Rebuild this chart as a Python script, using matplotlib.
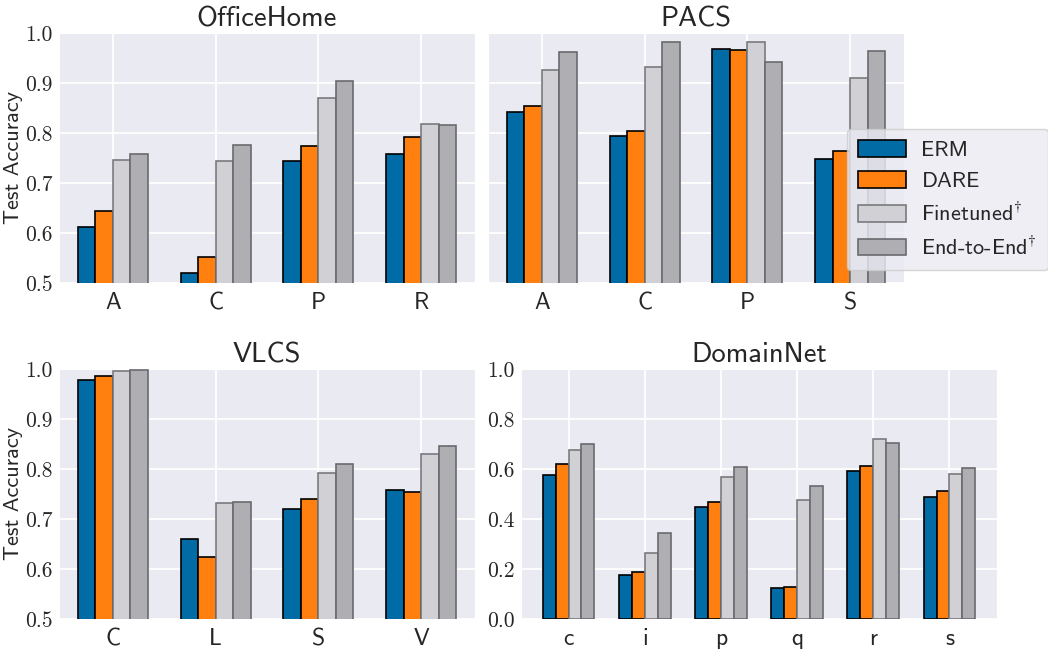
import numpy as np
import seaborn as sns
from matplotlib import pyplot as plt

# values
methods = ["ERM", "DARE", r"Finetuned$\!^\dagger$", r"End-to-End$\!^\dagger$"]

office_domains = ["A", "C", "P", "R"]
office_erm = [0.613, 0.520, 0.745, 0.758]
office_dare = [0.645, 0.552, 0.774, 0.792]
office_ft = [0.747, 0.745, 0.870, 0.819]
office_e2e = [0.758, 0.776, 0.904, 0.817]

pacs_domains = ["A", "C", "P", "S"]
pacs_erm = [0.843, 0.795, 0.969, 0.749]
pacs_dare = [0.855, 0.805, 0.967, 0.765]
pacs_ft = [0.927, 0.933, 0.983, 0.911]
pacs_e2e = [0.962, 0.983, 0.942, 0.965]

vlcs_domains = ["C", "L", "S", "V"]
vlcs_erm = [0.978, 0.660, 0.720, 0.759]
vlcs_dare = [0.987, 0.624, 0.741, 0.755]
vlcs_ft = [0.997, 0.732, 0.792, 0.830]
vlcs_e2e = [0.999, 0.735, 0.810, 0.847]

dn_domains = ["c", "i", "p", "q", "r", "s"]
dn_erm = [0.575, 0.175, 0.447, 0.123, 0.591, 0.487]
dn_dare = [0.619, 0.190, 0.469, 0.127, 0.612, 0.511]
dn_ft = [0.675, 0.263, 0.567, 0.475, 0.719, 0.579]
dn_e2e = [0.699, 0.343, 0.607, 0.531, 0.703, 0.603]

sns.set_style("darkgrid")
plt.rcParams["font.family"] = ["cmss10", "DejaVu Sans"]
plt.rcParams["mathtext.fontset"] = "cm"
plt.rcParams["axes.unicode_minus"] = False

faces = ["#006BA4", "#FF800E", "#D0D0D5", "#AEAEB3"]
edges = ["black", "black", "#7a7a7e", "#6a6a6e"]
width = 0.17

W, H = 1048, 649
fig = plt.figure(figsize=(W / 100, H / 100), dpi=100)


def px_axes(left, right, top, bottom):
    return fig.add_axes([left / W, (H - bottom) / H, (right - left) / W, (bottom - top) / H])


def draw(ax, title, domains, series, yticks, ylabel, show_ylabels):
    x = np.arange(len(domains))
    bars = []
    for i, vals in enumerate(series):
        b = ax.bar(x + (i - 1.5) * width, vals, width, color=faces[i],
                   edgecolor=edges[i], linewidth=1.2, zorder=3)
        bars.append(b)
    ax.set_title(title, fontsize=20.5, pad=5)
    ax.set_xticks(x)
    ax.set_xticklabels(domains, fontsize=17)
    ax.set_ylim(yticks[0], yticks[-1])
    ax.set_yticks(yticks)
    if show_ylabels:
        ax.set_yticklabels(["%.1f" % t for t in yticks], fontsize=15.5, family="cmr10")
    else:
        ax.set_yticklabels([])
    if ylabel:
        ax.set_ylabel("Test Accuracy", fontsize=16)
        ax.yaxis.set_label_coords(-0.086, 0.5)
    ax.tick_params(axis="y", pad=1)
    ax.tick_params(axis="x", pad=3)
    ax.grid(True, color="white", linewidth=1.3)
    return bars


ax1 = px_axes(59, 475, 33, 283)
ax2 = px_axes(488, 904, 33, 283)
ax3 = px_axes(59, 475, 369, 619)
ax4 = px_axes(521, 997, 369, 619)

acc_ticks = [0.5, 0.6, 0.7, 0.8, 0.9, 1.0]
handles = draw(ax1, "OfficeHome", office_domains,
               [office_erm, office_dare, office_ft, office_e2e], acc_ticks, True, True)
draw(ax2, "PACS", pacs_domains, [pacs_erm, pacs_dare, pacs_ft, pacs_e2e],
     acc_ticks, False, False)
draw(ax3, "VLCS", vlcs_domains, [vlcs_erm, vlcs_dare, vlcs_ft, vlcs_e2e],
     acc_ticks, True, True)
draw(ax4, "DomainNet", dn_domains, [dn_erm, dn_dare, dn_ft, dn_e2e],
     [0.0, 0.2, 0.4, 0.6, 0.8, 1.0], False, True)

leg = fig.legend(handles, methods, loc="upper left",
                 bbox_to_anchor=(847 / W, (H - 129) / H), fontsize=16,
                 frameon=True, handlelength=2.15, handleheight=0.77,
                 labelspacing=0.5, borderpad=0.5, handletextpad=0.7,
                 borderaxespad=0)
leg.get_frame().set_facecolor("#EAEAF2")
leg.get_frame().set_edgecolor("#cccccc")
leg.set_zorder(10)

plt.savefig("out.png", dpi=100)
